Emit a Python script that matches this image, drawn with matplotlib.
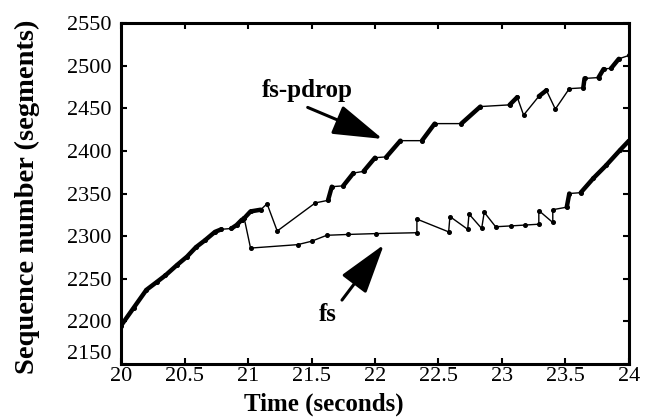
import numpy as np
import matplotlib
matplotlib.use('Agg')
import matplotlib.pyplot as plt

plt.rcParams['font.family'] = ['Liberation Serif', 'DejaVu Serif']

# part shared by both traces (slow start before the loss)
t_common = [20.00, 20.10, 20.20, 20.28, 20.35, 20.44, 20.52, 20.59, 20.66,
            20.74, 20.79, 20.87, 20.91, 20.95, 20.97]
s_common = [2195, 2216, 2237, 2246, 2254, 2266, 2276, 2287, 2295,
            2305, 2308, 2309, 2313, 2319, 2321]

# fs-pdrop after the split
t_pdrop = [21.02, 21.10, 21.15, 21.23, 21.53, 21.63, 21.66, 21.75, 21.83,
           21.91, 22.00, 22.09, 22.20, 22.37, 22.47, 22.68, 22.83, 23.06,
           23.12, 23.17, 23.29, 23.35, 23.42, 23.53, 23.64, 23.65, 23.76,
           23.80, 23.86, 23.92, 24.00]
s_pdrop = [2329, 2331, 2338, 2306, 2339, 2342, 2358, 2359, 2374,
           2376, 2392, 2393, 2412, 2412, 2432, 2432, 2452, 2454,
           2463, 2442, 2464, 2471, 2449, 2473, 2474, 2485, 2486,
           2496, 2497, 2508, 2512]

# fs after the split
t_fs = [21.02, 21.39, 21.50, 21.62, 21.79, 22.01, 22.33, 22.33, 22.58,
        22.59, 22.73, 22.74, 22.84, 22.86, 22.95, 23.07, 23.18, 23.29,
        23.29, 23.40, 23.40, 23.51, 23.53, 23.62, 23.72, 23.82, 23.93, 24.00]
s_fs = [2286, 2290, 2294, 2301, 2302, 2303, 2304, 2320, 2305,
        2323, 2308, 2326, 2309, 2328, 2311, 2312, 2313, 2314,
        2330, 2316, 2331, 2334, 2350, 2351, 2368, 2383, 2401, 2412]

# time spans where packets are dense (drawn as thick runs)
bursts_common = [(20.00, 20.79), (20.87, 20.97)]
bursts_pdrop = [(20.97, 21.10), (21.63, 21.66), (21.75, 21.83), (21.91, 22.00),
                (22.09, 22.20), (22.37, 22.47), (22.68, 22.83), (23.06, 23.12),
                (23.29, 23.35), (23.64, 23.65), (23.76, 23.80), (23.86, 23.92)]
bursts_fs = [(23.51, 23.53), (23.62, 24.00)]

fig = plt.figure(figsize=(6.52, 4.2), dpi=100)
ax = fig.add_axes([0.1856, 0.1333, 0.7791, 0.8119])


def draw(t, s, bursts):
    t = np.array(t)
    s = np.array(s)
    ax.plot(t, s, '-', color='black', lw=1.0, marker='o', ms=2.6)
    for a, b in bursts:
        m = (t >= a - 1e-9) & (t <= b + 1e-9)
        ax.plot(t[m], s[m], '-', color='black', lw=3.2, solid_capstyle='round')


draw(t_common + t_pdrop, s_common + s_pdrop, bursts_common + bursts_pdrop)
draw(t_common[-2:] + t_fs, s_common[-2:] + s_fs, bursts_fs)

ax.set_xlim(20, 24)
ax.set_ylim(2150, 2550)
ax.set_xticks([20, 20.5, 21, 21.5, 22, 22.5, 23, 23.5, 24])
ax.set_xticklabels(['20', '20.5', '21', '21.5', '22', '22.5', '23', '23.5', '24'])
ax.set_yticks(np.arange(2150, 2551, 50))

ax.tick_params(direction='in', length=4, width=1.5, top=True, right=True,
               labelsize=16)
ax.tick_params(axis='x', pad=2)
ax.tick_params(axis='y', pad=7)
for sp in ax.spines.values():
    sp.set_linewidth(2.2)

ax.get_yticklabels()[0].set_verticalalignment('bottom')

ax.set_xlabel('Time (seconds)', fontsize=18, fontweight='bold')
ax.xaxis.set_label_coords(0.40, -0.085)
ax.set_ylabel('Sequence number (segments)', fontsize=20.5, fontweight='bold')
ax.yaxis.set_label_coords(-0.16, 0.49)

arrow = dict(arrowstyle='-|>,head_length=3.1,head_width=0.95', color='black',
             lw=2.2, shrinkA=0, shrinkB=0, mutation_scale=10)
ax.annotate('', xy=(22.06, 2414), xytext=(21.47, 2451), arrowprops=arrow)
ax.text(21.47, 2471, 'fs-pdrop', fontsize=18, fontweight='bold',
        ha='center', va='center')
ax.annotate('', xy=(22.07, 2290), xytext=(21.74, 2225), arrowprops=arrow)
ax.text(21.63, 2208, 'fs', fontsize=18, fontweight='bold',
        ha='center', va='center')

fig.savefig('out.png', dpi=100)
